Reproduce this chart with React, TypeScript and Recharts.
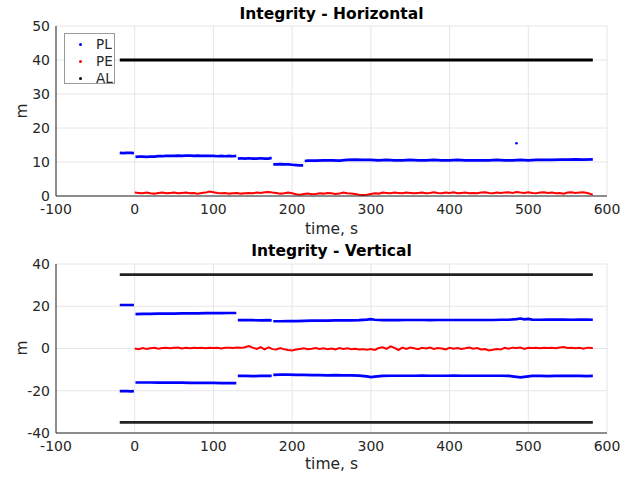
import React from 'react';
import { ComposedChart, Line, XAxis, YAxis, CartesianGrid, Label } from 'recharts';

// ---------- data ----------
const X_TICKS = [-100, 0, 100, 200, 300, 400, 500, 600];
const Y_TICKS_H = [0, 10, 20, 30, 40, 50];
const Y_TICKS_V = [-40, -20, 0, 20, 40];

// Horizontal protection level [time, value]; null breaks the trace
const PL_H: [number, number | null][] = [
  [-19, 12.7], [-15, 12.6], [-10, 12.7], [-5, 12.7], [-1, 12.6], [0, null],
  [1, 11.5], [5, 11.6], [10, 11.6], [15, 11.5], [20, 11.6], [25, 11.6], [30, 11.7], [35, 11.7],
  [40, 11.8], [45, 11.8], [50, 11.8], [55, 11.9], [60, 11.8], [65, 11.9], [70, 11.9], [75, 11.8],
  [80, 11.9], [85, 11.8], [90, 11.8], [95, 11.8], [100, 11.8], [105, 11.7], [110, 11.8], [115, 11.7],
  [120, 11.8], [125, 11.7], [129, 11.8], [130, null],
  [131, 11.0], [135, 11.1], [140, 11.0], [145, 11.1], [150, 11.0], [155, 11.0], [160, 11.1],
  [165, 11.0], [170, 11.0], [174, 11.2], [175, null],
  [176, 9.3], [180, 9.3], [185, 9.4], [190, 9.3], [195, 9.3], [200, 9.2], [205, 9.1], [210, 9.0],
  [214, 9.0], [215, null],
  [216, 10.3], [220, 10.4], [230, 10.4], [240, 10.5], [250, 10.5], [260, 10.4], [270, 10.6],
  [280, 10.7], [290, 10.6], [300, 10.6], [310, 10.5], [320, 10.6], [330, 10.5], [340, 10.5],
  [350, 10.6], [360, 10.5], [370, 10.5], [380, 10.6], [390, 10.5], [400, 10.5], [410, 10.6],
  [420, 10.5], [430, 10.5], [440, 10.5], [450, 10.5], [460, 10.6], [470, 10.5], [480, 10.5],
  [490, 10.6], [500, 10.5], [510, 10.6], [520, 10.6], [530, 10.6], [540, 10.7], [550, 10.7],
  [560, 10.8], [570, 10.7], [582, 10.8],
];
const PL_H_OUTLIER: [number, number][] = [[485, 15.5]];

const PE_TIME = [
  0, 5, 10, 15, 20, 25, 30, 35, 40, 45, 50, 55, 60, 65, 70, 75, 80, 85, 90, 95,
  100, 105, 110, 115, 120, 125, 130, 135, 140, 145, 150, 155, 160, 165, 170, 175, 180, 185, 190, 195,
  200, 205, 210, 215, 220, 225, 230, 235, 240, 245, 250, 255, 260, 265, 270, 275, 280, 285, 290, 295,
  300, 305, 310, 315, 320, 325, 330, 335, 340, 345, 350, 355, 360, 365, 370, 375, 380, 385, 390, 395,
  400, 405, 410, 415, 420, 425, 430, 435, 440, 445, 450, 455, 460, 465, 470, 475, 480, 485, 490, 495,
  500, 505, 510, 515, 520, 525, 530, 535, 540, 545, 550, 555, 560, 565, 570, 575, 582,
];
const PE_H = [
  1.0, 0.9, 0.8, 1.0, 0.8, 0.7, 0.9, 1.0, 0.8, 0.9, 1.0, 0.8, 0.9, 1.0, 0.8, 0.9, 0.7, 0.9, 1.0, 1.3,
  1.1, 0.9, 0.8, 0.9, 0.7, 0.8, 0.9, 0.7, 0.8, 0.9, 0.8, 1.0, 0.9, 1.1, 1.2, 1.0, 0.9, 0.7, 0.8, 1.0,
  0.8, 0.5, 0.4, 0.6, 0.7, 0.5, 0.6, 0.8, 0.7, 0.9, 0.8, 0.6, 0.7, 1.0, 0.8, 0.7, 0.6, 0.4, 0.3, 0.4,
  0.6, 0.8, 0.7, 1.0, 0.9, 0.8, 1.0, 0.9, 0.8, 1.0, 0.9, 0.8, 0.9, 1.0, 0.8, 0.9, 1.1, 0.9, 0.8, 1.0,
  0.9, 1.1, 0.8, 0.9, 1.0, 0.8, 0.9, 0.8, 1.0, 1.1, 0.9, 0.8, 1.0, 0.9, 1.0, 1.1, 0.9, 1.2, 1.0, 0.9,
  1.1, 0.9, 0.8, 1.0, 1.1, 0.9, 1.0, 0.8, 0.9, 0.7, 1.0, 1.1, 0.9, 1.0, 1.1, 0.9, 0.4,
];
const PE_V = [
  0.0, -0.3, 0.2, -0.2, 0.1, 0.3, -0.1, 0.2, 0.4, 0.1, 0.3, 0.5, 0.0, 0.3, 0.1, 0.4, 0.2, 0.3, 0.1, 0.4,
  0.2, 0.3, 0.0, 0.3, 0.4, 0.2, 0.5, 0.3, 0.6, 1.2, 0.4, -0.2, 0.6, -0.4, 0.5, -0.3, -0.5, 0.2, -0.4, -0.7,
  -0.9, -0.5, -0.2, 0.1, -0.3, -0.1, 0.2, -0.2, 0.1, -0.3, 0.0, -0.4, 0.2, -0.2, 0.1, -0.3, -0.1, -0.5, -0.3, -0.6,
  -0.3, -0.7, 0.2, 0.6, -0.2, 1.0, 0.3, -0.7, 0.4, -0.2, 0.5, 0.1, -0.3, 0.3, 0.0, 0.4, -0.2, 0.2, 0.0, -0.4,
  0.3, -0.1, 0.2, -0.2, 0.1, 0.5, -0.1, 0.2, -0.5, -0.3, -0.9, -0.6, -0.2, -0.5, 0.3, -0.1, 0.4, 0.2, 0.5, -0.2,
  0.3, 0.2, 0.4, 0.1, 0.3, 0.2, 0.4, 0.1, 0.5, 0.7, 0.2, 0.4, 0.1, 0.3, -0.1, 0.4, 0.2,
];

// Vertical protection level, upper and lower bounds [time, value]
const PL_V_UP: [number, number | null][] = [
  [-19, 20.6], [-15, 20.6], [-10, 20.6], [-5, 20.6], [-1, 20.6], [0, null],
  [1, 16.3], [10, 16.4], [20, 16.4], [30, 16.5], [40, 16.5], [50, 16.5], [60, 16.6], [70, 16.6],
  [80, 16.6], [90, 16.7], [100, 16.7], [110, 16.7], [120, 16.8], [129, 16.8], [130, null],
  [131, 13.4], [140, 13.4], [150, 13.4], [160, 13.3], [170, 13.4], [174, 13.3], [175, null],
  [176, 12.9], [185, 12.9], [195, 13.0], [205, 13.0], [215, 13.1], [225, 13.2], [235, 13.2],
  [245, 13.2], [255, 13.3], [265, 13.3], [275, 13.3], [285, 13.4], [295, 13.7], [300, 13.9],
  [305, 13.6], [315, 13.4], [325, 13.5], [335, 13.4], [345, 13.5], [355, 13.5], [365, 13.5],
  [375, 13.4], [385, 13.5], [395, 13.5], [405, 13.5], [415, 13.5], [425, 13.5], [435, 13.5],
  [445, 13.5], [455, 13.5], [465, 13.6], [475, 13.6], [485, 13.9], [490, 14.2], [495, 13.8],
  [500, 14.0], [505, 13.7], [515, 13.6], [525, 13.7], [535, 13.7], [545, 13.7], [555, 13.6],
  [565, 13.7], [575, 13.7], [582, 13.6],
];
const PL_V_LOW: [number, number | null][] = [
  [-19, -20.2], [-15, -20.2], [-10, -20.2], [-5, -20.3], [-1, -20.2], [0, null],
  [1, -16.1], [10, -16.1], [20, -16.1], [30, -16.2], [40, -16.2], [50, -16.2], [60, -16.2], [70, -16.3],
  [80, -16.3], [90, -16.3], [100, -16.3], [110, -16.4], [120, -16.4], [129, -16.4], [130, null],
  [131, -13.0], [140, -13.0], [150, -13.1], [160, -13.0], [170, -12.9], [174, -13.0], [175, null],
  [176, -12.5], [185, -12.4], [195, -12.4], [205, -12.5], [215, -12.5], [225, -12.6], [235, -12.6],
  [245, -12.7], [255, -12.6], [265, -12.7], [275, -12.7], [285, -12.8], [295, -13.2], [300, -13.5],
  [305, -13.3], [315, -13.0], [325, -12.9], [335, -12.9], [345, -12.9], [355, -12.9], [365, -12.8],
  [375, -12.9], [385, -12.9], [395, -12.9], [405, -12.8], [415, -12.9], [425, -12.9], [435, -12.9],
  [445, -12.9], [455, -12.9], [465, -12.9], [475, -13.0], [485, -13.4], [490, -13.7], [495, -13.4],
  [500, -13.2], [505, -13.0], [515, -13.0], [525, -13.1], [535, -13.0], [545, -13.0], [555, -13.0],
  [565, -13.0], [575, -13.1], [582, -13.0],
];

// Alert limits [time, value]
const AL_H: [number, number][] = [[-19, 40], [582, 40]];
const AL_V_UP: [number, number][] = [[-19, 35], [582, 35]];
const AL_V_LOW: [number, number][] = [[-19, -35], [582, -35]];

const LEGEND = [
  { name: 'PL', color: '#0000ff' },
  { name: 'PE', color: '#ff0000' },
  { name: 'AL', color: '#000000' },
];

// ---------- helpers ----------
const toRows = (pairs: [number, number | null][]) => pairs.map(([t, v]) => ({ t, v }));
const zipRows = (ts: number[], vs: number[]) => ts.map((t, i) => ({ t, v: vs[i] }));

const FONT = '"DejaVu Sans", sans-serif';
const TXT = '#262626';
const BLUE = '#0000ff';
const RED = '#ff0000';
const BLACK = '#000000';

const tickStyle = { fontSize: 14, fill: TXT, fontFamily: FONT };

function Panel({
  height,
  top,
  yTicks,
  yDomain,
  children,
  labelOffset,
}: {
  height: number;
  top: number;
  yTicks: number[];
  yDomain: [number, number];
  children: React.ReactNode;
  labelOffset: number;
}) {
  return (
    <ComposedChart
      width={621}
      height={height}
      margin={{ top, right: 14, left: 20, bottom: 4 }}
    >
      <CartesianGrid stroke="#e6e6e6" strokeWidth={1} />
      <XAxis
        dataKey="t"
        type="number"
        domain={[-100, 600]}
        ticks={X_TICKS}
        allowDataOverflow
        height={40}
        tick={tickStyle}
        tickLine={false}
        tickSize={6}
        tickMargin={2}
        axisLine={{ stroke: TXT, strokeWidth: 1 }}
      >
        <Label
          value="time, s"
          position="insideBottom"
          offset={labelOffset}
          style={{ fontSize: 15.5, fill: TXT, fontFamily: FONT }}
        />
      </XAxis>
      <YAxis
        type="number"
        domain={yDomain}
        ticks={yTicks}
        allowDataOverflow
        width={36}
        tick={tickStyle}
        tickLine={false}
        tickSize={4}
        tickMargin={2}
        axisLine={{ stroke: TXT, strokeWidth: 1 }}
      />
      {children}
    </ComposedChart>
  );
}

const lineProps = {
  dataKey: 'v',
  dot: false,
  activeDot: false,
  isAnimationActive: false,
  connectNulls: false,
  type: 'linear' as const,
};

export default function App() {
  const titleStyle: React.CSSProperties = {
    position: 'absolute',
    left: 56,
    width: 551,
    textAlign: 'center',
    fontFamily: FONT,
    fontWeight: 'bold',
    fontSize: 15.5,
    lineHeight: '16px',
    color: '#000',
  };
  const yLabStyle: React.CSSProperties = {
    position: 'absolute',
    width: 40,
    height: 20,
    lineHeight: '20px',
    textAlign: 'center',
    fontFamily: FONT,
    fontSize: 15.5,
    color: TXT,
    transform: 'rotate(-90deg)',
  };
  return (
    <div style={{ position: 'absolute', left: 0, top: 0, width: 621, height: 477, background: '#fff' }}>
      <div style={{ position: 'absolute', left: 0, top: 0 }}>
        <Panel height={240} top={26} yTicks={Y_TICKS_H} yDomain={[0, 50]} labelOffset={2}>
          <Line {...lineProps} data={toRows(PL_H)} stroke={BLUE} strokeWidth={2.7} name="PL" />
          <Line
            dataKey="v"
            data={toRows(PL_H_OUTLIER)}
            stroke="none"
            isAnimationActive={false}
            activeDot={false}
            dot={{ r: 1.3, fill: BLUE, stroke: 'none' }}
          />
          <Line {...lineProps} data={zipRows(PE_TIME, PE_H)} stroke={RED} strokeWidth={2} name="PE" />
          <Line {...lineProps} data={toRows(AL_H)} stroke={BLACK} strokeWidth={2.8} name="AL" />
        </Panel>
      </div>
      <div style={{ position: 'absolute', left: 0, top: 240 }}>
        <Panel height={237} top={24} yTicks={Y_TICKS_V} yDomain={[-40, 40]} labelOffset={4}>
          <Line {...lineProps} data={toRows(PL_V_UP)} stroke={BLUE} strokeWidth={2.7} />
          <Line {...lineProps} data={toRows(PL_V_LOW)} stroke={BLUE} strokeWidth={2.7} />
          <Line {...lineProps} data={zipRows(PE_TIME, PE_V)} stroke={RED} strokeWidth={2} />
          <Line {...lineProps} data={toRows(AL_V_UP)} stroke="#222" strokeWidth={2.8} />
          <Line {...lineProps} data={toRows(AL_V_LOW)} stroke="#222" strokeWidth={2.8} />
        </Panel>
      </div>

      <div style={{ ...titleStyle, top: 6 }}>Integrity - Horizontal</div>
      <div style={{ ...titleStyle, top: 243 }}>Integrity - Vertical</div>

      <div style={{ ...yLabStyle, left: 2, top: 101 }}>m</div>
      <div style={{ ...yLabStyle, left: 2, top: 338 }}>m</div>

      <div
        style={{
          position: 'absolute',
          left: 64,
          top: 33,
          width: 49,
          height: 49,
          border: '1px solid #9a9a9a',
          background: '#fff',
          fontFamily: FONT,
          fontSize: 13.5,
          color: TXT,
        }}
      >
        {LEGEND.map((it) => (
          <div
            key={it.name}
            style={{ position: 'relative', height: 17, width: 49, marginTop: it.name === 'PL' ? 2 : 0 }}
          >
            <span
              style={{
                position: 'absolute',
                left: 14,
                top: 7,
                width: 3,
                height: 3,
                borderRadius: 2,
                background: it.color,
              }}
            />
            <span style={{ position: 'absolute', left: 31, top: 0, lineHeight: '17px' }}>{it.name}</span>
          </div>
        ))}
      </div>
    </div>
  );
}
